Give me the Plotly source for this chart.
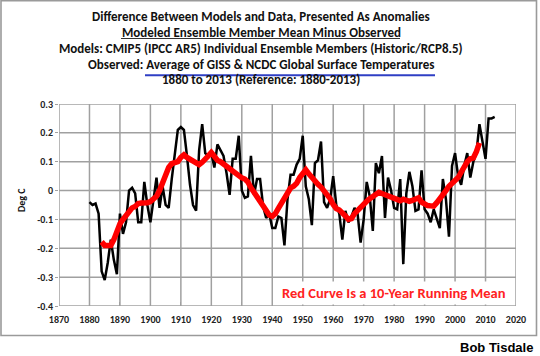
import plotly.graph_objects as go

# ---- data ----
years = list(range(1880, 2014))
annual_diff = [
    -0.04, -0.05, -0.045, -0.08, -0.28, -0.31, -0.25, -0.17, -0.24, -0.29,   # 1880s
    -0.08, -0.15, -0.11, 0.00, 0.01, -0.01, -0.11, -0.11, 0.03, -0.05,       # 1890s
    -0.11, -0.03, 0.045, -0.06, 0.015, -0.05, -0.06, 0.04, 0.13, 0.21,       # 1900s
    0.22, 0.21, 0.12, 0.02, -0.05, -0.07, 0.14, 0.23, 0.13, 0.12,            # 1910s
    0.13, 0.08, 0.16, 0.14, 0.12, 0.06, -0.015, 0.11, 0.11, 0.19,            # 1920s
    0.0, -0.025, -0.02, 0.12, -0.015, 0.04, 0.04, -0.055, -0.095, -0.08,     # 1930s
    -0.13, -0.13, -0.09, -0.095, -0.19, -0.03, 0.055, 0.055, 0.09, 0.11,     # 1940s
    0.19, 0.015, -0.03, -0.12, 0.095, 0.105, 0.17, -0.04, -0.06, -0.03,      # 1950s
    0.05, -0.05, -0.08, -0.17, -0.07, -0.11, -0.09, -0.06, -0.08, -0.18,     # 1960s
    -0.10, 0.03, -0.02, -0.14, 0.095, 0.06, 0.12, -0.095, 0.045, 0.0,        # 1970s
    -0.06, -0.065, 0.04, -0.255, -0.01, 0.065, 0.015, -0.07, -0.065, 0.07,   # 1980s
    -0.065, -0.08, -0.11, -0.065, -0.095, -0.13, 0.04, -0.03, -0.16, 0.085,  # 1990s
    0.13, 0.05, 0.02, 0.085, 0.13, 0.045, 0.10, 0.13, 0.23, 0.17,            # 2000s
    0.11, 0.25, 0.25, 0.255,                                                 # 2010-2013
]

mean_years = list(range(1884, 2009))
running_mean = [
    -0.178, -0.19, -0.19, -0.19, -0.17, -0.14,                               # 1884-1889
    -0.115, -0.10, -0.085, -0.068, -0.06, -0.055, -0.045, -0.043, -0.043, -0.042,
    -0.038, -0.03, -0.02, 0.0, 0.026, 0.055, 0.08, 0.093, 0.098, 0.10,
    0.115, 0.124, 0.115, 0.108, 0.10, 0.093, 0.09, 0.098, 0.107, 0.12,
    0.132, 0.115, 0.105, 0.10, 0.092, 0.084, 0.074, 0.063, 0.056, 0.05,
    0.044, 0.04, 0.03, 0.01, -0.005, -0.02, -0.038, -0.055, -0.072, -0.085,
    -0.089, -0.08, -0.062, -0.045, -0.027, -0.01, 0.009, 0.015, 0.025, 0.045,
    0.063, 0.072, 0.058, 0.045, 0.03, 0.022, 0.012, 0.0, -0.012, -0.028,
    -0.048, -0.062, -0.067, -0.075, -0.088, -0.10, -0.097, -0.08, -0.068, -0.058,
    -0.046, -0.037, -0.028, -0.02, -0.012, -0.006, -0.01, -0.014, -0.02, -0.024,
    -0.029, -0.034, -0.035, -0.03, -0.035, -0.037, -0.034, -0.03, -0.025, -0.04,
    -0.048, -0.052, -0.053, -0.054, -0.042, -0.03, -0.016, 0.0, 0.015, 0.028,
    0.035, 0.045, 0.065, 0.084, 0.10, 0.11, 0.113, 0.135, 0.165,             # 2000-2008
]

x_ticks = list(range(1870, 2030, 10))
y_ticks = [0.3, 0.2, 0.1, 0.0, -0.1, -0.2, -0.3, -0.4]
y_tick_labels = ["0.3", "0.2", "0.1", "0", "-0.1", "-0.2", "-0.3", "-0.4"]

title_lines = [
    "Difference Between Models and Data, Presented As Anomalies",
    "Modeled Ensemble Member Mean Minus Observed",
    "Models: CMIP5 (IPCC AR5) Individual Ensemble Members (Historic/RCP8.5)",
    "Observed: Average of GISS &amp; NCDC Global Surface Temperatures",
    "1880 to 2013 (Reference: 1880-2013)",
]

# ---- layout helpers (pixel -> paper) ----
W, H = 540, 356
ML, MR, MT, MB = 59, 24, 104, 50
PW, PH = W - ML - MR, H - MT - MB


def px(x):
    return (x - ML) / PW


def py(y):
    return (H - MB - y) / PH


FONT = "Carlito, Lato, 'Open Sans', sans-serif"
GRID = "#a0a0a0"
X0, X1 = x_ticks[0], x_ticks[-1]
Y0, Y1 = min(y_ticks), max(y_ticks)

fig = go.Figure()

# gridlines (incl. plot border) drawn as line traces on the axes' own scales
gx, gy = [], []
for xv in x_ticks:
    gx += [xv, xv, None]
    gy += [Y0, Y1, None]
for yv in y_ticks:
    gx += [X0, X1, None]
    gy += [yv, yv, None]
fig.add_trace(go.Scatter(x=gx, y=gy, mode="lines", line=dict(color=GRID, width=1.5),
                         hoverinfo="skip", showlegend=False, cliponaxis=False))

fig.add_trace(go.Scatter(x=years, y=annual_diff, mode="lines",
                         line=dict(color="black", width=2.5),
                         hoverinfo="skip", showlegend=False))
fig.add_trace(go.Scatter(x=mean_years, y=running_mean, mode="lines",
                         line=dict(color="#ff0000", width=5.5),
                         hoverinfo="skip", showlegend=False))

annotations = []
line_y = [16.7, 32.5, 48.3, 64.0, 80.0]
for txt, yy in zip(title_lines, line_y):
    annotations.append(dict(text="<b>" + txt + "</b>", xref="paper", yref="paper",
                            x=px(261), y=py(yy), xanchor="center", yanchor="middle",
                            showarrow=False, font=dict(family=FONT, size=13, color="#111")))

annotations.append(dict(text="<b>Deg C</b>", xref="paper", yref="paper",
                        x=px(21), y=py(200), textangle=-90, xanchor="center", yanchor="middle",
                        showarrow=False, font=dict(family=FONT, size=10, color="#111")))
annotations.append(dict(text="<b>Red Curve Is a 10-Year Running Mean</b>",
                        xref="paper", yref="paper", x=px(393.5), y=py(292.5),
                        xanchor="center", yanchor="middle", showarrow=False,
                        bgcolor="white", borderpad=2,
                        font=dict(family=FONT, size=14.5, color="#ff2222")))
annotations.append(dict(text="<b>Bob Tisdale</b>", xref="paper", yref="paper",
                        x=px(535), y=py(347), xanchor="right", yanchor="middle",
                        showarrow=False,
                        font=dict(family="'Liberation Sans', Arial, sans-serif", size=13, color="black")))

shapes = [
    # outer chart frame
    dict(type="rect", xref="paper", yref="paper", x0=px(1), x1=px(536.5),
         y0=py(335.5), y1=py(0.8), line=dict(color="#9a9a9a", width=1.6),
         fillcolor="rgba(0,0,0,0)"),
    # underline of line 2
    dict(type="line", xref="paper", yref="paper", x0=px(121), x1=px(400),
         y0=py(38.5), y1=py(38.5), line=dict(color="#333", width=1)),
    # blue underline of line 4
    dict(type="line", xref="paper", yref="paper", x0=px(145), x1=px(435),
         y0=py(75.3), y1=py(75.3), line=dict(color="#2f3fc4", width=2)),
]

tick_font = dict(family=FONT, size=10, color="#222", weight="bold")

fig.update_layout(
    width=W, height=H,
    margin=dict(l=ML, r=MR, t=MT, b=MB),
    paper_bgcolor="white", plot_bgcolor="white",
    annotations=annotations, shapes=shapes,
    xaxis=dict(range=[X0, X1], tickvals=x_ticks, ticktext=[str(v) for v in x_ticks],
               showgrid=False, showline=False,
               ticks="inside", ticklen=4, tickcolor=GRID, ticklabelstandoff=6,
               tickfont=tick_font, zeroline=False, fixedrange=True),
    yaxis=dict(range=[Y0, Y1], tickvals=y_ticks, ticktext=y_tick_labels,
               showgrid=False, showline=False,
               ticks="outside", ticklen=3, tickcolor=GRID,
               tickfont=tick_font, zeroline=False, fixedrange=True),
)

fig.write_html("out.html", config=dict(displayModeBar=False, staticPlot=True),
               post_script="document.body.style.margin='0';document.body.style.padding='0';")
